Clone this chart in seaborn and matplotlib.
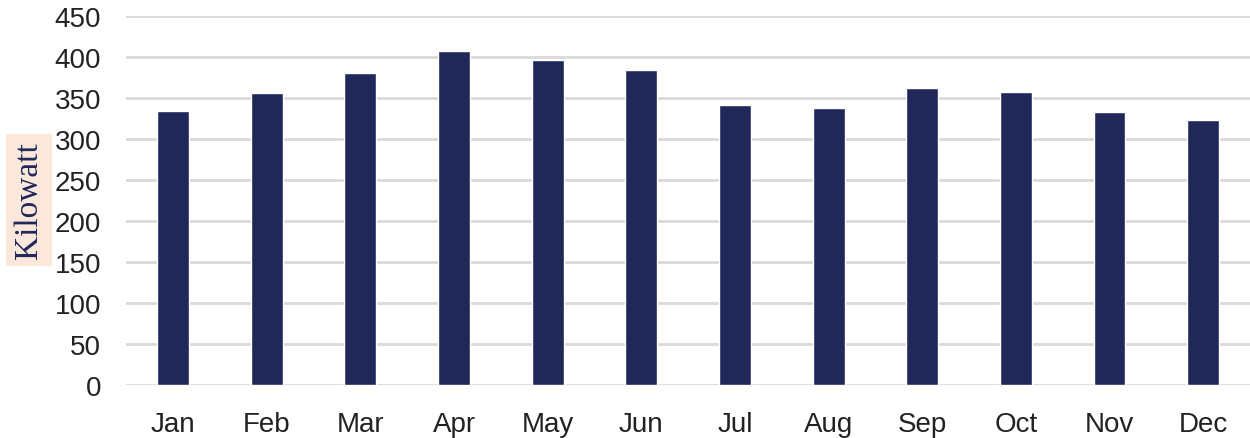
import matplotlib
matplotlib.use("Agg")
import matplotlib.pyplot as plt
import seaborn as sns
import pandas as pd

months = ["Jan", "Feb", "Mar", "Apr", "May", "Jun", "Jul", "Aug", "Sep", "Oct", "Nov", "Dec"]
kilowatt = [334, 356, 380, 407, 397, 384, 341, 338, 362, 357, 333, 323]
yticks = [0, 50, 100, 150, 200, 250, 300, 350, 400, 450]

df = pd.DataFrame({"month": months, "kw": kilowatt})

sns.set_theme(style="white")
plt.rcParams['font.family'] = ['Liberation Sans', 'DejaVu Sans']

fig = plt.figure(figsize=(12.5, 4.39), dpi=100)
ax = fig.add_axes([0.101, 0.121, 0.899, 0.840])

sns.barplot(data=df, x="month", y="kw", color="#20285A", width=0.34,
            saturation=1, ax=ax, zorder=3)

ax.set_ylim(0, 450)
ax.set_yticks(yticks)
ax.set_xlim(-0.5, 11.5)
ax.yaxis.grid(True, color="#D9D9D9", linewidth=2, zorder=0)
ax.set_axisbelow(True)
for s in ax.spines.values():
    s.set_visible(False)
ax.tick_params(axis="both", length=0, labelsize=20, labelcolor="#222222")
ax.tick_params(axis="x", pad=19)
ax.tick_params(axis="y", pad=18)
ax.set_xlabel("")
ax.set_ylabel("")

fig.text(0.0232, 0.542, "Kilowatt", rotation=90, ha="center", va="center",
         fontsize=24, color="#20285A", family=["Liberation Serif", "DejaVu Serif"],
         bbox=dict(boxstyle="square,pad=0.22", facecolor="#FCE8DB", edgecolor="none"))

fig.savefig("out.png", dpi=100)
